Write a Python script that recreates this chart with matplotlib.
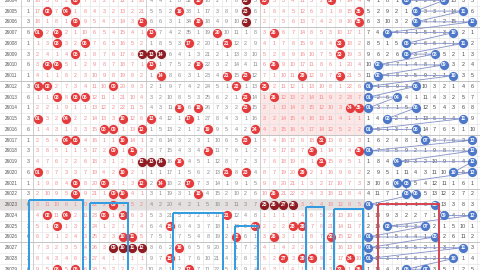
import matplotlib.pyplot as plt
from matplotlib.patches import Rectangle

plt.rcParams['font.family'] = ['Liberation Sans', 'DejaVu Sans']

issues = ['26004', '26005', '26006', '26007', '26008', '26009', '26010',
          '26011', '26012', '26013', '26014', '26015', '26016', '26017',
          '26018', '26019', '26020', '26021', '26022', '26023', '26024',
          '26025', '26026', '26027', '26028', '26029']
weekday = [6, 1, 3, 6, 1, 3, 6, 1, 3, 6, 1, 3, 6, 1, 3, 3, 6, 1, 3, 6, 1, 3,
           6, 1, 3, 6]

# front area 01-35, five numbers per draw
front = [
    [5, 18, 23, 25, 32], [2, 4, 16, 23, 35], [5, 12, 18, 23, 35],
    [1, 3, 13, 20, 26], [3, 6, 17, 21, 33], [5, 12, 13, 14, 33],
    [2, 3, 13, 18, 26], [14, 21, 23, 29, 33], [1, 2, 9, 22, 25],
    [3, 5, 6, 23, 26], [16, 18, 23, 34, 35], [1, 4, 10, 13, 17],
    [8, 9, 12, 19, 24], [4, 5, 10, 23, 31], [9, 11, 19, 30, 35],
    [12, 13, 14, 16, 31], [1, 10, 21, 23, 29], [5, 8, 12, 14, 17],
    [5, 9, 10, 18, 26], [9, 25, 26, 27, 28], [2, 4, 8, 10, 21],
    [3, 15, 24, 28, 29], [10, 11, 22, 26, 32], [9, 10, 11, 12, 16],
    [15, 27, 29, 30, 34], [3, 5, 17, 33, 35],
]
# back area 01-12, two numbers per draw
back = [
    [5, 9], [6, 11], [6, 12], [3, 10], [5, 11], [5, 8], [2, 9], [2, 10],
    [1, 6], [1, 4], [1, 6], [3, 11], [1, 6], [7, 12], [1, 12], [4, 12],
    [10, 12], [4, 5], [5, 6], [1, 8], [9, 12], [3, 7], [1, 8], [1, 11],
    [1, 10], [5, 7],
]
# misses shown on the first row (0 where the number came up)
front_start = [16, 3, 6, 2, 0, 7, 3, 2, 1, 12, 1, 20, 4, 4, 1, 8, 32, 0, 16,
               2, 7, 8, 0, 5, 0, 5, 3, 4, 11, 5, 2, 0, 7, 14, 4]
back_start = [4, 1, 8, 1, 0, 1, 2, 2, 0, 13, 3, 5]

# hand-drawn marker boxes: (left, right, top) in cell units
boxes = [(0.13, 5.76, 18.56, '#2f9be2'), (6.53, 10.59, 18.87, '#2f9be2'),
         (15.29, 20.58, 19.74, '#2f9be2'), (21.88, 24.35, 20.95, '#2f9be2'),
         (29.4, 31.34, 19.24, '#2f9be2'), (32.39, 35.46, 19.4, '#2f9be2'),
         (37.01, 43.47, 18.9, '#d8434f')]

n_rows = len(issues)


def misses(draws, start, size):
    table = [list(start)]
    for row in draws[1:]:
        prev = table[-1]
        table.append([0 if n + 1 in row else prev[n] + 1 for n in range(size)])
    return table


def in_streak(i, n):
    row = set(front[i])
    lo, hi = n, n
    while lo - 1 in row:
        lo -= 1
    while hi + 1 in row:
        hi += 1
    up, dn = i, i
    while up > 0 and n in front[up - 1]:
        up -= 1
    while dn < n_rows - 1 and n in front[dn + 1]:
        dn += 1
    return hi - lo >= 2 or dn - up >= 2


fmiss = misses(front, front_start, 35)
bmiss = misses(back, back_start, 12)

fig = plt.figure(figsize=(4.8, 2.7), dpi=100)
ax = fig.add_axes([0, 0, 1, 1])
ax.set_xlim(-2.99, 47.81)
ax.set_ylim(25.07, -0.03)
ax.axis('off')

# shaded bands
ax.add_patch(Rectangle((24.5, 8.5), 11, 4, color='#fde6e6', lw=0, zorder=0))
ax.add_patch(Rectangle((-3, 18.5), 38.5, 1, color='#e4e0e0', lw=0, zorder=0))

# grid
for x in [-0.77] + [n + 0.5 for n in range(48)]:
    ax.axvline(x, color='#e2e2e2', lw=0.4, zorder=1)
for y in range(-1, n_rows):
    ax.axhline(y + 0.5, color='#e2e2e2', lw=0.4, zorder=1)
for x in [-0.77, 0.5, 12.5, 24.5, 35.5]:
    ax.axvline(x, color='#c4c4c4', lw=0.5, zorder=1)
for y in [2.5, 7.5, 12.5, 17.5, 22.5]:
    ax.axhline(y, color='#bdbdbd', lw=0.6, zorder=1)

num_kw = dict(ha='center', va='center', fontsize=3.9, zorder=2)
ball_kw = dict(ha='center', va='center', fontsize=3.6, color='white',
               fontweight='bold', zorder=4)

for i in range(n_rows):
    ax.text(-1.83, i, issues[i], ha='center', va='center', fontsize=3.3,
            color='#555555', zorder=2)
    ax.text(0, i, str(weekday[i]), color='#666666', **num_kw)
    for n in range(1, 36):
        if n in front[i]:
            continue
        colour = '#8a8a8a' if 13 <= n <= 24 else '#f08a8c'
        ax.text(n, i, str(fmiss[i][n - 1]), color=colour, **num_kw)
    for k in range(1, 13):
        if k in back[i]:
            continue
        ax.text(35 + k, i, str(bmiss[i][k - 1]), color='#4a4a4a', **num_kw)

# front balls
for i, row in enumerate(front):
    for n in row:
        colour = '#8e1c22' if in_streak(i, n) else '#e53b3d'
        ax.scatter(n, i, s=44, color=colour, lw=0, zorder=3)
        ax.text(n, i, '%02d' % n, **ball_kw)

# back trend line and balls
xs, ys = [], []
for i, row in enumerate(back):
    for k in row:
        xs.append(35 + k)
        ys.append(i)
ax.plot(xs, ys, color='#8390c8', lw=0.6, zorder=2.5)
ax.scatter(xs, ys, s=44, color='#4d78c9', lw=0, zorder=3)
for x, y in zip(xs, ys):
    ax.text(x, y, '%02d' % (x - 35), **ball_kw)

for left, right, top, colour in boxes:
    ax.add_patch(Rectangle((left, top), right - left, 26 - top, fill=False,
                           edgecolor=colour, lw=1.4, zorder=5))

fig.savefig('out.png', dpi=100)
